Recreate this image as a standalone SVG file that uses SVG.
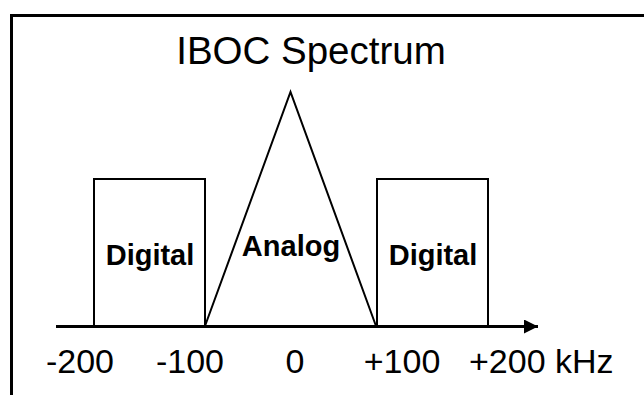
<svg xmlns="http://www.w3.org/2000/svg" width="644" height="395" viewBox="0 0 644 395">
<defs>
<style>
.t{font-family:"Liberation Sans",Arial,sans-serif;fill:#000}
.lbl{font-size:34px}
.b{font-size:29px;font-weight:bold}
.sh{fill:none;stroke:#000;stroke-width:2}
</style>
<marker id="ah" markerWidth="15" markerHeight="15" refX="14" refY="7" orient="auto" markerUnits="userSpaceOnUse">
<path d="M0,0 L14,7 L0,14 Z" fill="#000"/>
</marker>
</defs>
<rect x="0" y="0" width="644" height="395" fill="#fff"/>
<rect x="11.5" y="15.5" width="700" height="500" fill="none" stroke="#000" stroke-width="3"/>
<text class="t" x="311" y="64" font-size="38.5" text-anchor="middle">IBOC Spectrum</text>
<g id="digital-left">
<rect class="sh" x="94" y="179" width="111" height="147"/>
<text class="t b" x="150" y="265" text-anchor="middle">Digital</text>
</g>
<g id="analog">
<path class="sh" d="M205,326 L290.5,92 L376,326"/>
<text class="t b" x="291" y="256" text-anchor="middle">Analog</text>
</g>
<g id="digital-right">
<rect class="sh" x="377" y="179" width="111" height="147"/>
<text class="t b" x="433" y="265" text-anchor="middle">Digital</text>
</g>
<g id="connectors">
<line x1="56" y1="326.5" x2="538" y2="326.5" stroke="#000" stroke-width="3" marker-end="url(#ah)"/>
</g>
<g id="axis-labels">
<text class="t lbl" x="80" y="373" text-anchor="middle">-200</text>
<text class="t lbl" x="190" y="373" text-anchor="middle">-100</text>
<text class="t lbl" x="295" y="373" text-anchor="middle">0</text>
<text class="t lbl" x="402" y="373" text-anchor="middle">+100</text>
<text class="t lbl" x="469" y="373" font-size="35">+200 kHz</text>
</g>
</svg>
